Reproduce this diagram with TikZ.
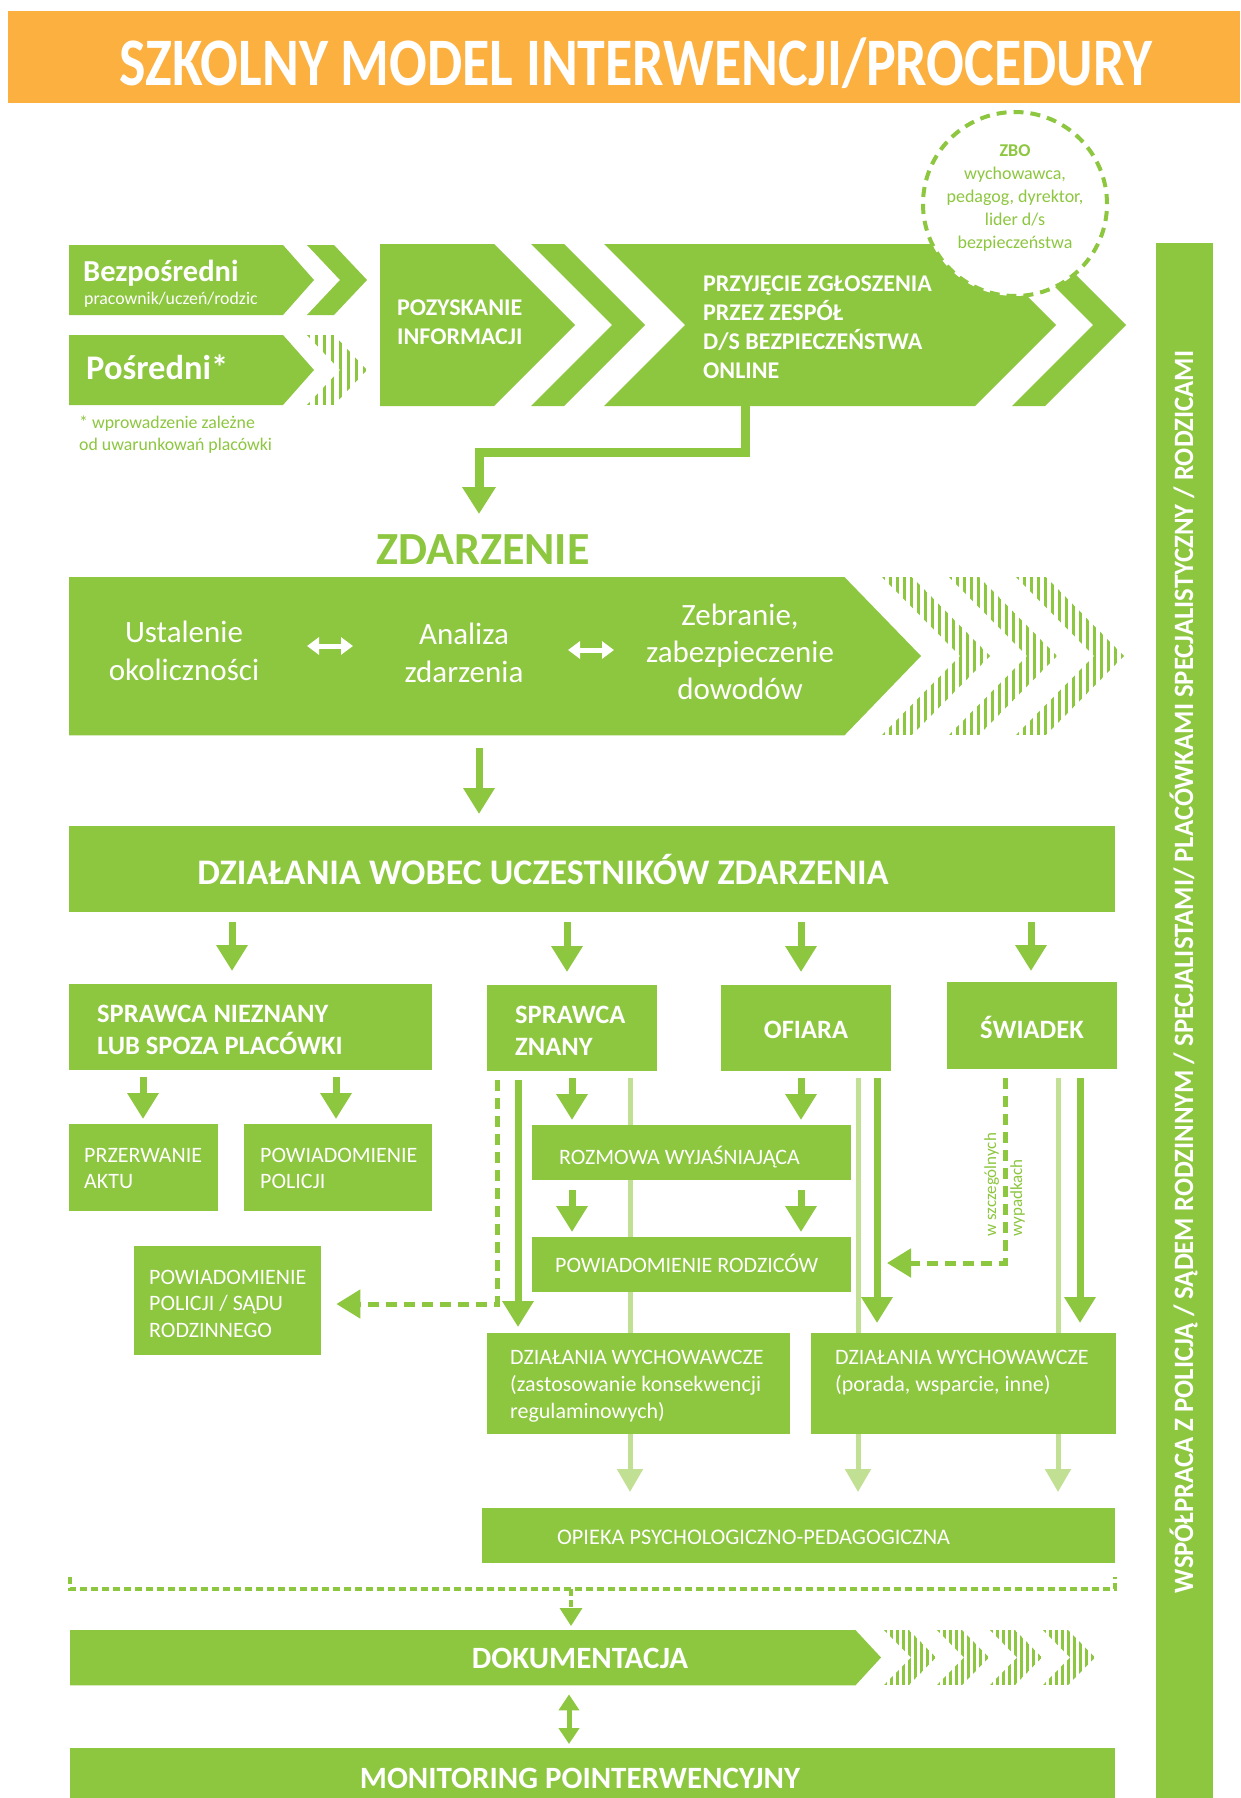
\documentclass[tikz,border=0pt]{standalone}
\usepackage{fontspec}
\setmainfont{Carlito}
\usepackage{graphicx}
\usetikzlibrary{arrows.meta}
\definecolor{G}{RGB}{141,198,63}
\definecolor{LG}{RGB}{193,224,148}
\definecolor{OR}{RGB}{251,176,64}
\pgfdeclarelayer{bg}
\pgfsetlayers{bg,main}
\newcommand\fs[2]{\fontsize{#1}{#2}\selectfont}
\newcommand\chev[5]{\fill[G] (#1,#2) -- ++(#4,0) -- ({#1+#4+#5},{(#2+#3)/2}) -- ({#1+#4},#3) -- (#1,#3) -- ({#1+#5},{(#2+#3)/2}) -- cycle;}
\newcommand\stripechev[7]{%
  \begin{scope}
    \clip (#1,#2) -- ++(#4,0) -- ({#1+#4+#5},{(#2+#3)/2}) -- ({#1+#4},#3) -- (#1,#3) -- ({#1+#5},{(#2+#3)/2}) -- cycle;
    \foreach \k in {0,...,24} {\fill[G] ({#1+\k*#6},#2) rectangle ++(#7,{#3-#2});}
  \end{scope}}
\begin{document}
\begin{tikzpicture}[x=1pt,y=-1pt,
  box/.style={fill=G, inner sep=0pt, anchor=north west},
  shp/.style={inner sep=0pt, anchor=north west},
  wt/.style={text=white, inner sep=0pt},
  gt/.style={text=G, inner sep=0pt},
  arr/.style={draw=G, line width=7pt, -{Triangle[width=30pt,length=26pt]}},
  larr/.style={draw=LG, line width=5pt, -{Triangle[width=25pt,length=23pt]}},
  darr/.style={draw=G, line width=5pt, dash pattern=on 11pt off 7pt, -{Triangle[width=28pt,length=24pt]}},
  wdbl/.style={draw=white, line width=5pt, {Triangle[width=17pt,length=12pt]}-{Triangle[width=17pt,length=12pt]}}]
\useasboundingbox (0,0) rectangle (1240,1798);
\begin{pgfonlayer}{bg}
\fill[white] (0,0) rectangle (1240,1798);
\end{pgfonlayer}

% title
\node[fill=OR, minimum width=1232pt, minimum height=92pt, inner sep=0pt, anchor=north west] (titlebar) at (8,11) {};
\node[wt, anchor=base, font=\bfseries\fs{68}{68}] (title) at (636,86) {\resizebox{1033pt}{\height}{SZKOLNY MODEL INTERWENCJI/PROCEDURY}};

% right bar
\node[box, minimum width=57pt, minimum height=1560pt] (wsp) at (1156,243) {};
\node[wt, rotate=90, anchor=base, font=\bfseries\fs{28}{28}] (wspT) at (1193,972) {\resizebox{1242pt}{\height}{WSPÓŁPRACA Z POLICJĄ / SĄDEM RODZINNYM / SPECJALISTAMI/ PLACÓWKAMI SPECJALISTYCZNY / RODZICAMI}};

% top row
\fill[G] (69,245) -- (283,245) -- (314,280) -- (283,315) -- (69,315) -- cycle;
\chev{307}{245}{315}{27}{33}
\fill[G] (69,335) -- (283,335) -- (314,370) -- (283,405) -- (69,405) -- cycle;
\stripechev{307}{335}{405}{27}{33}{8}{3}
\node[wt, anchor=base west, font=\bfseries\fs{30.5}{32}] (bezT) at (83,281) {Bezpośredni};
\node[wt, anchor=base west, font=\fs{17.8}{20}] (bezS) at (84,304) {pracownik/uczeń/rodzic};
\node[wt, anchor=base west, font=\bfseries\fs{34.5}{36}] (posT) at (86,379) {Pośredni*};
\node[gt, anchor=base west, font=\fs{17.8}{21}] (note1) at (79,428) {* wprowadzenie zależne};
\node[gt, anchor=base west, font=\fs{17.8}{21}] (note2) at (79,450) {od uwarunkowań placówki};

\fill[G] (380,244) -- (494,244) -- (575,325) -- (494,406) -- (380,406) -- cycle;
\node[wt, anchor=base west, align=left, font=\bfseries\fs{24}{29}] (pozT) at (397,344) {POZYSKANIE\\INFORMACJI};
\chev{531}{244}{406}{33}{81}
\fill[G] (604,244) -- (975,244) -- (1056,325) -- (975,406) -- (604,406) -- (685,325) -- cycle;
\chev{1012}{244}{406}{33}{81}
\node[wt, anchor=base west, align=left, font=\bfseries\fs{24}{29}] (przT) at (703,378) {PRZYJĘCIE ZGŁOSZENIA\\PRZEZ ZESPÓŁ\\D/S BEZPIECZEŃSTWA\\ONLINE};
\node[circle, draw=G, fill=white, line width=4pt, dash pattern=on 10pt off 7pt, minimum size=184pt, inner sep=0pt] (zbo) at (1015,204) {};
\node[gt, anchor=base, align=center, font=\fs{18}{23}] (zboT) at (1015,248) {\textbf{ZBO}\\wychowawca,\\pedagog, dyrektor,\\lider d/s\\bezpieczeństwa};

% elbow connector
\coordinate (bigout) at (745,406);
\coordinate (elbtip) at (479,514);
\draw[G, line width=9pt, line join=miter, -{Triangle[width=32pt,length=27pt]}] (bigout) -- ++(0,46) -| (elbtip);

% ZDARZENIE
\node[gt, anchor=base, font=\bfseries\fs{46}{46}] (zdl) at (483,564) {ZDARZENIE};
\node[shp, minimum width=775pt, minimum height=158pt] (zd) at (69,577) {};
\fill[G] (zd.north west) -- (zd.north east) -- (921,656) -- (zd.south east) -- (zd.south west) -- cycle;
\stripechev{882}{577}{735}{30}{78}{7}{3}
\stripechev{949}{577}{735}{30}{78}{7}{3}
\stripechev{1016}{577}{735}{30}{78}{7}{3}
\node[wt, anchor=base, align=center, font=\fs{31}{38}] (ust) at (184,680) {Ustalenie\\okoliczności};
\node[wt, anchor=base, align=center, font=\fs{31}{38}] (ana) at (464,682) {Analiza\\zdarzenia};
\node[wt, anchor=base, align=center, font=\fs{31}{37}] (zeb) at (740,699) {Zebranie,\\zabezpieczenie\\dowodów};
\coordinate (da1) at (307,646); \coordinate (da2) at (353,646);
\coordinate (db1) at (568,650); \coordinate (db2) at (614,650);
\draw[wdbl] (da1) -- (da2);
\draw[wdbl] (db1) -- (db2);

% DZIALANIA
\node[box, minimum width=1046pt, minimum height=86pt] (dzial) at (69,826) {};
\node[wt, anchor=base, font=\bfseries\fs{36}{36}] (dzialT) at (543,884) {DZIAŁANIA WOBEC UCZESTNIKÓW ZDARZENIA};

% row of participants
\node[box, minimum width=363pt, minimum height=86pt] (snz) at (69,984) {};
\node[box, minimum width=170pt, minimum height=86pt] (sz) at (487,985) {};
\node[box, minimum width=170pt, minimum height=86pt] (ofi) at (721,985) {};
\node[box, minimum width=170pt, minimum height=87pt] (swi) at (947,982) {};
\node[wt, anchor=base west, align=left, font=\bfseries\fs{26.5}{32}] (snzT) at (97,1054) {SPRAWCA NIEZNANY\\LUB SPOZA PLACÓWKI};
\node[wt, anchor=base west, align=left, font=\bfseries\fs{26.5}{32}] (szT) at (515,1055) {SPRAWCA\\ZNANY};
\node[wt, anchor=base, font=\bfseries\fs{26.5}{32}] (ofiT) at (806,1038) {OFIARA};
\node[wt, anchor=base, font=\bfseries\fs{26.5}{32}] (swiT) at (1032,1038) {ŚWIADEK};

\node[box, minimum width=149pt, minimum height=87pt] (przer) at (69,1124) {};
\node[box, minimum width=188pt, minimum height=87pt] (powpol) at (244,1124) {};
\node[box, minimum width=187pt, minimum height=109pt] (powsad) at (134,1246) {};
\node[wt, anchor=base west, align=left, font=\fs{22}{26}] (przerT) at (84,1188) {PRZERWANIE\\AKTU};
\node[wt, anchor=base west, align=left, font=\fs{22}{26}] (powpolT) at (260,1188) {POWIADOMIENIE\\POLICJI};
\node[wt, anchor=base west, align=left, font=\fs{22}{26.5}] (powsadT) at (149,1337) {POWIADOMIENIE\\POLICJI / SĄDU\\RODZINNEGO};

\node[box, minimum width=319pt, minimum height=55pt] (rozm) at (532,1125) {};
\node[box, minimum width=319pt, minimum height=55pt] (powr) at (532,1237) {};
\node[wt, anchor=base west, font=\fs{22}{25}] (rozmT) at (559,1164) {ROZMOWA WYJAŚNIAJĄCA};
\node[wt, anchor=base west, font=\fs{22}{26}] (powrT) at (555,1272) {POWIADOMIENIE RODZICÓW};

\node[box, minimum width=303pt, minimum height=101pt] (dzw1) at (487,1333) {};
\node[box, minimum width=305pt, minimum height=101pt] (dzw2) at (811,1333) {};
\node[wt, anchor=base west, align=left, font=\fs{22}{27}] (dzw1T) at (510,1418) {DZIAŁANIA WYCHOWAWCZE\\(zastosowanie konsekwencji\\regulaminowych)};
\node[wt, anchor=base west, align=left, font=\fs{22}{27}] (dzw2T) at (835,1391) {DZIAŁANIA WYCHOWAWCZE\\(porada, wsparcie, inne)};

\node[box, minimum width=633pt, minimum height=55pt] (opieka) at (482,1508) {};
\node[wt, anchor=base west, font=\fs{22.3}{25}] (opiekaT) at (557,1544) {OPIEKA PSYCHOLOGICZNO-PEDAGOGICZNA};

\node[gt, rotate=90, anchor=base west, font=\fs{17}{20}] (wsz1) at (996,1237) {w szczególnych};
\node[gt, rotate=90, anchor=base west, font=\fs{17}{20}] (wsz2) at (1022,1237) {wypadkach};

% documentation and monitoring
\node[shp, minimum width=785pt, minimum height=55pt] (dok) at (70,1630) {};
\fill[G] (dok.north west) -- (dok.north east) -- (881,1657.5) -- (dok.south east) -- (dok.south west) -- cycle;
\stripechev{884}{1630}{1685}{25}{27}{6}{2.5}
\stripechev{937}{1630}{1685}{25}{27}{6}{2.5}
\stripechev{990}{1630}{1685}{25}{27}{6}{2.5}
\stripechev{1043}{1630}{1685}{25}{27}{6}{2.5}
\node[wt, anchor=base, font=\bfseries\fs{31}{31}] (dokT) at (580,1668) {DOKUMENTACJA};
\node[box, minimum width=1045pt, minimum height=60pt] (mon) at (70,1748) {};
\node[wt, anchor=base, font=\bfseries\fs{31}{31}] (monT) at (580,1788) {MONITORING POINTERWENCYJNY};

% helper coordinates
\foreach \c in {143,232,336,479,497,518,567,569,571,572,630,801,858,877,1031,1058,1080}
  {\coordinate (c\c) at (\c,0);}
\coordinate (pd) at (497,1304);
\coordinate (wd) at (1005,1263);
\coordinate (wdtip) at (887,1263);
\coordinate (brk) at (571,1589);

% light lines behind boxes
\begin{pgfonlayer}{bg}
\draw[larr, shorten <=7pt, shorten >=16pt] (sz.south -| c630) -- (opieka.north -| c630);
\draw[larr, shorten <=7pt, shorten >=16pt] (ofi.south -| c858) -- (opieka.north -| c858);
\draw[larr, shorten <=9pt, shorten >=16pt] (swi.south -| c1058) -- (opieka.north -| c1058);
\end{pgfonlayer}

% connectors
\draw[arr, shorten <=13pt, shorten >=12pt] (zd.south -| c479) -- (dzial.north -| c479);
\draw[arr, shorten <=10pt, shorten >=13pt] (dzial.south -| c232) -- (snz.north -| c232);
\draw[arr, shorten <=10pt, shorten >=13pt] (dzial.south -| c567) -- (sz.north -| c567);
\draw[arr, shorten <=10pt, shorten >=13pt] (dzial.south -| c801) -- (ofi.north -| c801);
\draw[arr, shorten <=10pt, shorten >=11pt] (dzial.south -| c1031) -- (swi.north -| c1031);
\draw[arr, shorten <=7pt, shorten >=5pt] (snz.south -| c143) -- (przer.north -| c143);
\draw[arr, shorten <=7pt, shorten >=5pt] (snz.south -| c336) -- (powpol.north -| c336);
\draw[darr, shorten <=9pt, shorten >=15pt] (sz.south -| pd) -- (pd) -- (powsad.east |- pd);
\draw[arr, shorten <=9pt, shorten >=6pt] (sz.south -| c518) -- (dzw1.north -| c518);
\draw[arr, shorten <=7pt, shorten >=5pt] (sz.south -| c572) -- (rozm.north -| c572);
\draw[arr, shorten <=7pt, shorten >=5pt] (ofi.south -| c801) -- (rozm.north -| c801);
\draw[arr, shorten <=10pt, shorten >=5pt] (rozm.south -| c572) -- (powr.north -| c572);
\draw[arr, shorten <=10pt, shorten >=5pt] (rozm.south -| c801) -- (powr.north -| c801);
\draw[arr, shorten <=7pt, shorten >=10pt] (ofi.south -| c877) -- (dzw2.north -| c877);
\draw[arr, shorten <=9pt, shorten >=10pt] (swi.south -| c1080) -- (dzw2.north -| c1080);
\draw[darr, shorten <=9pt] (swi.south -| wd) -- (wd) -- (wdtip);

% bracket and documentation arrows
\draw[G, line width=3.5pt, dash pattern=on 7pt off 4pt] (70,1577) -- (70,1589) -- (1115,1589) -- (1115,1577);
\draw[G, line width=3.5pt, dash pattern=on 7pt off 4pt, -{Triangle[width=22pt,length=18pt]}, shorten >=4pt] (brk) -- (dok.north -| brk);
\draw[G, line width=5pt, {Triangle[width=20pt,length=16pt]}-{Triangle[width=20pt,length=16pt]}, shorten <=9pt, shorten >=4pt] (dok.south -| c569) -- (mon.north -| c569);
\end{tikzpicture}
\end{document}
